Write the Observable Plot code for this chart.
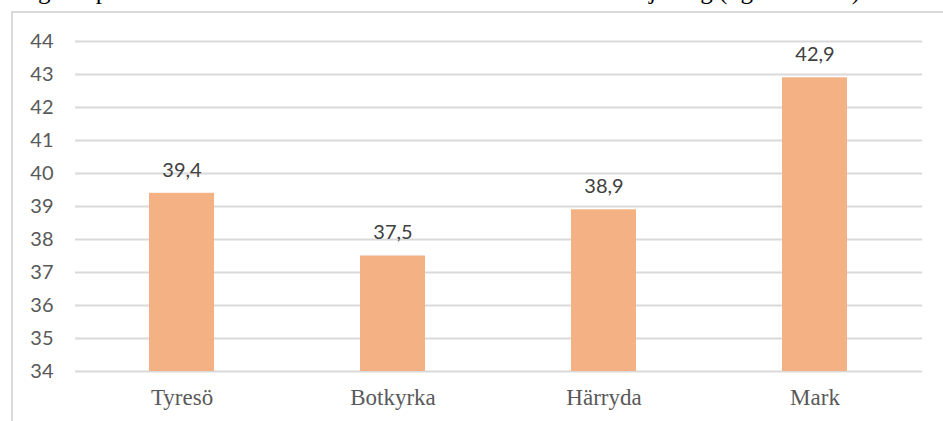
<!DOCTYPE html>
<html>
<head>
<meta charset="utf-8">
<script src="https://cdn.jsdelivr.net/npm/d3@7"></script>
<script src="https://cdn.jsdelivr.net/npm/@observablehq/plot@0.6"></script>
<style>
  html, body { margin: 0; padding: 0; background: #fff; overflow: hidden; }
  #wrap { position: relative; width: 943px; height: 421px; }
  #title { position: absolute; left: 0; top: 0; width: 943px; height: 10px; overflow: hidden; }
  #title span { position: absolute; left: 2px; top: -22px; font: 25px/25px "Liberation Serif", serif; color: #000; white-space: nowrap; }
  #frame { position: absolute; left: 11px; top: 11px; width: 1000px; height: 500px; border-left: 2px solid #d9d9d9; border-top: 2px solid #d9d9d9; box-sizing: border-box; }
  #chart { position: absolute; left: 0; top: 0; }
</style>
</head>
<body>
<div id="wrap">
  <div id="title"><span>Diagram på medelåldern i de utvalda kommunerna där åldern är jämlig (i genomsnitt)</span></div>
  <div id="frame"></div>
  <div id="chart"></div>
</div>
<script>
const categories = ["Tyresö", "Botkyrka", "Härryda", "Mark"];
const values = [39.4, 37.5, 38.9, 42.9];
const yTicks = [34, 35, 36, 37, 38, 39, 40, 41, 42, 43, 44];

const data = categories.map((c, i) => ({category: c, value: values[i]}));

const chart = Plot.plot({
  width: 943,
  height: 421,
  marginTop: 41,
  marginBottom: 50,
  marginLeft: 75,
  marginRight: 21,
  style: {fontFamily: "Lato, sans-serif", color: "#595959", background: "transparent"},
  x: {domain: categories, paddingInner: 0.69, paddingOuter: 0.345, label: null},
  y: {domain: [34, 44], label: null},
  marks: [
    Plot.gridY(yTicks, {stroke: "#d9d9d9", strokeOpacity: 1, strokeWidth: 2}),
    Plot.barY(data, {x: "category", y1: 34, y2: "value", fill: "#f4b183"}),
    Plot.text(data, {x: "category", y: "value", text: d => d.value.toFixed(1).replace(".", ","), dy: -23, fontSize: 20, fill: "#404040", fontFamily: "Lato, sans-serif"}),
    Plot.axisY(yTicks, {tickSize: 0, tickPadding: 22, fontSize: 20, label: null, tickFormat: d => String(d)}),
    Plot.axisX({tickSize: 0, tickPadding: 17, fontSize: 23, fontFamily: "Liberation Serif, serif", label: null})
  ]
});
document.getElementById("chart").appendChild(chart);
</script>
</body>
</html>
